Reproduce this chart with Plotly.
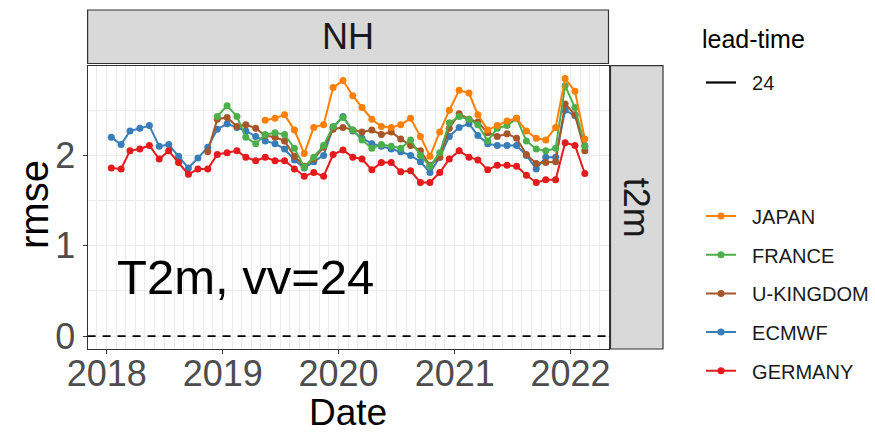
import pandas as pd
import plotly.graph_objects as go

# Monthly scores, Jan 2018 .. Feb 2022 (mid-month stamps)
dates = pd.date_range("2018-01-01", periods=50, freq="MS") + pd.Timedelta(days=14)

germany = [1.86, 1.85, 2.05, 2.07, 2.11, 1.96, 2.05, 1.92, 1.79, 1.85,
           1.85, 2.01, 2.03, 2.05, 1.98, 1.94, 1.98, 1.94, 1.94, 1.85,
           1.77, 1.81, 1.77, 2.01, 2.06, 1.98, 1.96, 1.84, 1.92, 1.92,
           1.82, 1.83, 1.70, 1.70, 1.81, 1.96, 2.05, 1.98, 1.95, 1.84,
           1.89, 1.89, 1.88, 1.78, 1.70, 1.73, 1.73, 2.14, 2.11, 1.80]
ecmwf = [2.20, 2.12, 2.27, 2.30, 2.33, 2.10, 2.12, 1.99, 1.86, 1.97,
         2.09, 2.29, 2.35, 2.31, 2.27, 2.21, 2.16, 2.13, 2.07, 1.95,
         1.86, 1.93, 2.00, 2.31, 2.43, 2.27, 2.19, 2.13, 2.10, 2.07,
         2.04, 2.00, 1.93, 1.81, 1.98, 2.21, 2.31, 2.35, 2.22, 2.13,
         2.11, 2.11, 2.11, 2.00, 1.85, 1.98, 1.98, 2.50, 2.44, 2.11]
ukingdom = [None] * 10 + [
    2.04, 2.40, 2.42, 2.32, 2.34, 2.30, 2.22, 2.20, 2.16, 1.99,
    1.88, 1.96, 2.09, 2.29, 2.31, 2.28, 2.26, 2.28, 2.23, 2.26,
    2.18, 2.11, 2.05, 1.89, 1.98, 2.30, 2.46, 2.40, 2.37, 2.25,
    2.21, 2.24, 2.19, 2.01, 1.91, 1.92, 1.93, 2.57, 2.45, 2.05]
france = [None] * 11 + [
    2.43, 2.55, 2.43, 2.20, 2.13, 2.23, 2.25, 2.23, 2.08,
    1.87, 1.98, 2.11, 2.32, 2.42, 2.28, 2.17, 2.08, 2.12, 2.10,
    2.08, 2.17, 2.00, 1.88, 2.03, 2.36, 2.43, 2.40, 2.34, 2.16,
    2.30, 2.33, 2.41, 2.16, 2.07, 2.05, 2.08, 2.77, 2.53, 2.10]
japan = [None] * 16 + [
    2.39, 2.41, 2.45, 2.28,
    2.02, 2.31, 2.34, 2.75, 2.83, 2.66, 2.53, 2.40, 2.32, 2.31,
    2.34, 2.41, 2.21, 1.99, 2.26, 2.50, 2.72, 2.69, 2.45, 2.28,
    2.33, 2.38, 2.41, 2.27, 2.19, 2.17, 2.31, 2.85, 2.71, 2.18]

centres = ["JAPAN", "FRANCE", "U-KINGDOM", "ECMWF", "GERMANY"]
series = {"JAPAN": japan, "FRANCE": france, "U-KINGDOM": ukingdom,
          "ECMWF": ecmwf, "GERMANY": germany}
colours = {"JAPAN": "#FF7F00", "FRANCE": "#4DAF4A", "U-KINGDOM": "#A65628",
           "ECMWF": "#377EB8", "GERMANY": "#E41A1C"}
year_ticks = ["2018", "2019", "2020", "2021", "2022"]

FONT = "Liberation Sans, Arial, Helvetica, sans-serif"
W, H = 875, 435

# panel box in pixels
px_l, px_r, px_t, px_b = 87.6, 608.5, 65.7, 349.0


def fx(p):
    return p / W


def fy(p):
    return 1 - p / H


# small gap between the key glyph and its label
PAD = "\u00a0\u00a0"

fig = go.Figure()

# lead-time key (line type)
fig.add_trace(go.Scatter(x=[None], y=[None], mode="lines", name=PAD + "24",
                         line=dict(color="black", width=2.2),
                         legend="legend", showlegend=True))

draw_order = ["ECMWF", "U-KINGDOM", "FRANCE", "JAPAN", "GERMANY"]
for name in draw_order:
    fig.add_trace(go.Scatter(
        x=dates, y=series[name], name=PAD + name, mode="lines+markers",
        line=dict(color=colours[name], width=2),
        marker=dict(color=colours[name], size=7),
        connectgaps=False, legend="legend2", legendgroup=name,
        legendrank=centres.index(name) + 1,
    ))

# y range with 5% expansion around [0, max]
vals = [v for s in series.values() for v in s if v is not None]
ymax = max(vals)
yrange = [-0.05 * ymax, ymax * 1.05]
span = dates[-1] - dates[0]
xrange = [dates[0] - span * 0.05, dates[-1] + span * 0.05]

fig.add_hline(y=0, line=dict(color="black", width=1.6, dash="8px,7px"))

grid = "#EBEBEB"
fig.update_xaxes(
    type="date", range=xrange, domain=[fx(px_l), fx(px_r)],
    tickmode="array", tickvals=[f"{y}-01-01" for y in year_ticks], ticktext=year_ticks,
    showgrid=True, gridcolor=grid, gridwidth=1.1,
    minor=dict(dtick="M1", tick0="2018-01-01", showgrid=True, gridcolor=grid, gridwidth=0.6),
    ticks="outside", ticklen=4, tickcolor="#333333", tickwidth=1,
    tickfont=dict(family=FONT, size=36, color="#4D4D4D"),
    ticklabelstandoff=-11,
    showline=True, mirror=True, linecolor="#333333", linewidth=1.2,
    zeroline=False,
)
fig.update_yaxes(
    range=yrange, domain=[fy(px_b), fy(px_t)],
    tickmode="array", tickvals=[0, 1, 2], ticktext=["0", "1", "2"],
    showgrid=True, gridcolor=grid, gridwidth=1.1,
    minor=dict(tickvals=[0.5, 1.5, 2.5], showgrid=True, gridcolor=grid, gridwidth=0.6),
    ticks="outside", ticklen=4, tickcolor="#333333", tickwidth=1,
    tickfont=dict(family=FONT, size=36, color="#4D4D4D"),
    showline=True, mirror=True, linecolor="#333333", linewidth=1.2,
    zeroline=False,
)

strip_fill, strip_line = "#D9D9D9", "#333333"
shapes = [
    dict(type="rect", xref="paper", yref="paper",
         x0=fx(px_l), x1=fx(px_r), y0=fy(63.5), y1=fy(10),
         fillcolor=strip_fill, line=dict(color=strip_line, width=1.2), layer="below"),
    dict(type="rect", xref="paper", yref="paper",
         x0=fx(610.5), x1=fx(663), y0=fy(px_b), y1=fy(px_t),
         fillcolor=strip_fill, line=dict(color=strip_line, width=1.2), layer="below"),
]
for s in shapes:
    fig.add_shape(**s)

ann = [
    dict(text="NH", x=fx((px_l + px_r) / 2), y=fy(37), font=dict(size=36, color="#1A1A1A")),
    dict(text="t2m", x=fx(636.5), y=fy((px_t + px_b) / 2), textangle=90,
         font=dict(size=36, color="#1A1A1A")),
    dict(text="rmse", x=fx(34), y=fy(205), textangle=-90,
         font=dict(size=40, color="black")),
    dict(text="Date", x=fx((px_l + px_r) / 2), y=0, yanchor="bottom",
         font=dict(size=37, color="black")),
    dict(text="T2m, vv=24", x=fx(115), y=fy(277), xanchor="left",
         font=dict(size=49, color="black")),
    dict(text="lead-time", x=fx(700), y=fy(39), xanchor="left",
         font=dict(size=25, color="black")),
]
for a in ann:
    a.setdefault("xanchor", "center")
    a.setdefault("yanchor", "middle")
    a["font"]["family"] = FONT
    fig.add_annotation(xref="paper", yref="paper", showarrow=False, **a)

fig.update_layout(
    width=W, height=H,
    margin=dict(l=0, r=0, t=0, b=0, autoexpand=False),
    paper_bgcolor="white", plot_bgcolor="white",
    font=dict(family=FONT),
    legend=dict(x=fx(701), y=fy(63), xanchor="left", yanchor="top",
                font=dict(size=20, color="#1A1A1A"), itemwidth=30,
                bgcolor="rgba(0,0,0,0)"),
    legend2=dict(x=fx(701), y=fy(196.5), xanchor="left", yanchor="top",
                 font=dict(size=20, color="#1A1A1A"), itemwidth=30,
                 traceorder="grouped", tracegroupgap=9.7,
                 bgcolor="rgba(0,0,0,0)"),
)

fig.write_html("out.html")
